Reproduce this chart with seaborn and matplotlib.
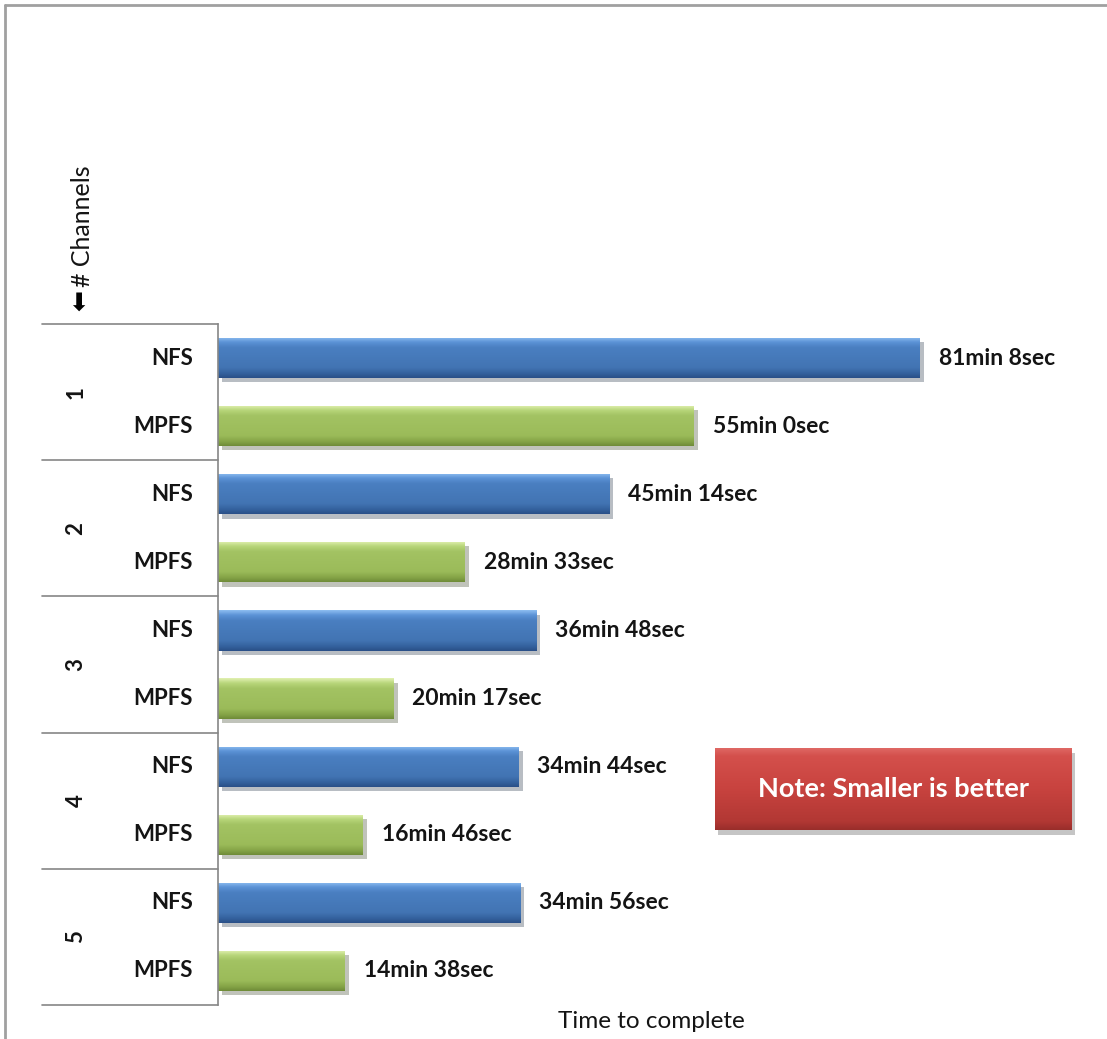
import matplotlib
matplotlib.use("Agg")
import matplotlib.pyplot as plt
import matplotlib.patheffects as pe
from matplotlib.lines import Line2D
from matplotlib.patches import FancyBboxPatch
from matplotlib.colors import to_rgb
import matplotlib.transforms as mtransforms
import seaborn as sns
import pandas as pd
import numpy as np

# ---- data ----
channels = ["1", "2", "3", "4", "5"]
fs_types = ["NFS", "MPFS"]
nfs_seconds = [4868, 2714, 2208, 2084, 2096]
mpfs_seconds = [3300, 1713, 1217, 1006, 878]
x_title = "Time to complete"
y_title = "# Channels"
note_text = "Note: Smaller is better"

rows = []
for ch, n, m in zip(channels, nfs_seconds, mpfs_seconds):
    rows.append({"row": f"{ch}-NFS", "channel": ch, "fs": "NFS", "sec": n})
    rows.append({"row": f"{ch}-MPFS", "channel": ch, "fs": "MPFS", "sec": m})
df = pd.DataFrame(rows)

sns.set_theme(style="white")
plt.rcParams["font.family"] = ["Lato", "DejaVu Sans"]

W, H = 1107, 1039
fig = plt.figure(figsize=(W / 100, H / 100), dpi=100)
left_px, right_px, top_px, bot_px = 218, 1100, 324, 1005
ax = fig.add_axes([left_px / W, 1 - bot_px / H, (right_px - left_px) / W, (bot_px - top_px) / H])

palette = {"NFS": "#4a7fc1", "MPFS": "#a0c060"}
sns.barplot(data=df, y="row", x="sec", hue="fs", palette=palette, dodge=False,
            orient="h", width=0.59, ax=ax, legend=False, saturation=1)

ax.set_xlim(0, 6120)
ax.set_ylim(9.5, -0.5)

# bevel-like vertical gradient on each bar
grad_stops = {
    "NFS": [(0.0, "#8cbcf0"), (0.12, "#5b92d6"), (0.25, "#4a7fc1"), (0.75, "#4274b3"), (0.9, "#33609c"), (1.0, "#2a5088")],
    "MPFS": [(0.0, "#e0f0b0"), (0.12, "#b8d67a"), (0.25, "#a3c363"), (0.75, "#9bbb59"), (0.9, "#84a346"), (1.0, "#6f8c38")],
}

def gradient_img(stops, n=64):
    t = np.linspace(0, 1, n)
    pos = [s[0] for s in stops]
    cols = np.array([to_rgb(s[1]) for s in stops])
    img = np.stack([np.interp(t, pos, cols[:, k]) for k in range(3)], axis=1)
    return img[:, None, :]

def fs_for_color(fc):
    r, g, b = fc[:3]
    return "NFS" if b > g else "MPFS"

bars = [p for p in ax.patches if p.get_width() > 0]
for patch in bars:
    fs = fs_for_color(patch.get_facecolor())
    x0, y0 = patch.get_x(), patch.get_y()
    w, h = patch.get_width(), patch.get_height()
    patch.set_edgecolor("none")
    patch.set_path_effects([pe.SimplePatchShadow(offset=(3, -3), alpha=0.3), pe.Normal()])
    im = ax.imshow(gradient_img(grad_stops[fs]), extent=(x0, x0 + w, y0 + h, y0),
                   aspect="auto", origin="upper", zorder=patch.get_zorder() + 0.1,
                   interpolation="bilinear")
    im.set_clip_path(patch)

ax.set_xlim(0, 6120)
ax.set_ylim(9.5, -0.5)
ax.set_aspect("auto")
ax.set_xticks([])
ax.set_yticks([])
ax.set_xlabel("")
ax.set_ylabel("")
for s in ["top", "right", "bottom"]:
    ax.spines[s].set_visible(False)
ax.spines["left"].set_color("#868686")
ax.spines["left"].set_linewidth(1.2)
ax.spines["left"].set_zorder(5)

txt_color = "#141414"
# value labels
for i, r in df.iterrows():
    s = int(r["sec"])
    ax.annotate(f"{s // 60}min {s % 60}sec", xy=(s, i), xytext=(19, 0),
                textcoords="offset pixels", va="center", ha="left",
                fontsize=16.5, fontweight="bold", color=txt_color)

# category labels
bt = mtransforms.blended_transform_factory(fig.transFigure, ax.transData)
for i, r in df.iterrows():
    fig.text(193 / W, i, r["fs"], transform=bt, ha="right", va="center",
             fontsize=16, fontweight="bold", color=txt_color)
for g, ch in enumerate(channels):
    fig.text(76 / W, 2 * g + 0.5, ch, transform=bt, ha="center", va="center",
             rotation=90, fontsize=16, fontweight="bold", color=txt_color)
for b in [-0.5 + 2 * k for k in range(len(channels) + 1)]:
    fig.add_artist(Line2D([42 / W, left_px / W], [b, b], transform=bt,
                          color="#868686", lw=1.2))

# axis titles
fig.text(651 / W, 1 - 1022 / H, x_title, ha="center", va="center", fontsize=17.5,
         color=txt_color)
fig.text(82 / W, 1 - 226 / H, y_title, ha="center", va="center", rotation=90,
         fontsize=18, color=txt_color)
fig.text(80 / W, 1 - 301 / H, "\u2b05", ha="center", va="center", rotation=90,
         fontsize=18, color="black", family=["DejaVu Sans"])

# note box
bx0, by0, bx1, by1 = 715, 748, 1072, 830
shadow = FancyBboxPatch((bx0 / W + 3 / W, 1 - by1 / H - 5 / H), (bx1 - bx0) / W, (by1 - by0) / H,
                        boxstyle="square,pad=0", transform=fig.transFigure,
                        facecolor="#808080", alpha=0.45, edgecolor="none", zorder=1)
fig.add_artist(shadow)
box_ax = fig.add_axes([bx0 / W, 1 - by1 / H, (bx1 - bx0) / W, (by1 - by0) / H], zorder=3)
box_ax.imshow(gradient_img([(0.0, "#e06a66"), (0.1, "#d4504c"), (0.5, "#c8433f"),
                            (0.9, "#b23834"), (1.0, "#9a2e2b")]),
              extent=(0, 1, 0, 1), aspect="auto", origin="upper", interpolation="bilinear")
box_ax.set_axis_off()
fig.text((bx0 + bx1) / 2 / W, 1 - (by0 + by1) / 2 / H, note_text, ha="center",
         va="center", fontsize=19.5, fontweight="bold", color="white", zorder=10)

# outer chart border
fig.add_artist(Line2D([5 / W, 5 / W], [0, 1 - 5 / H], color="#a0a0a0", lw=2))
fig.add_artist(Line2D([5 / W, 1], [1 - 5 / H, 1 - 5 / H], color="#a0a0a0", lw=2))

fig.savefig("out.png", dpi=100)
